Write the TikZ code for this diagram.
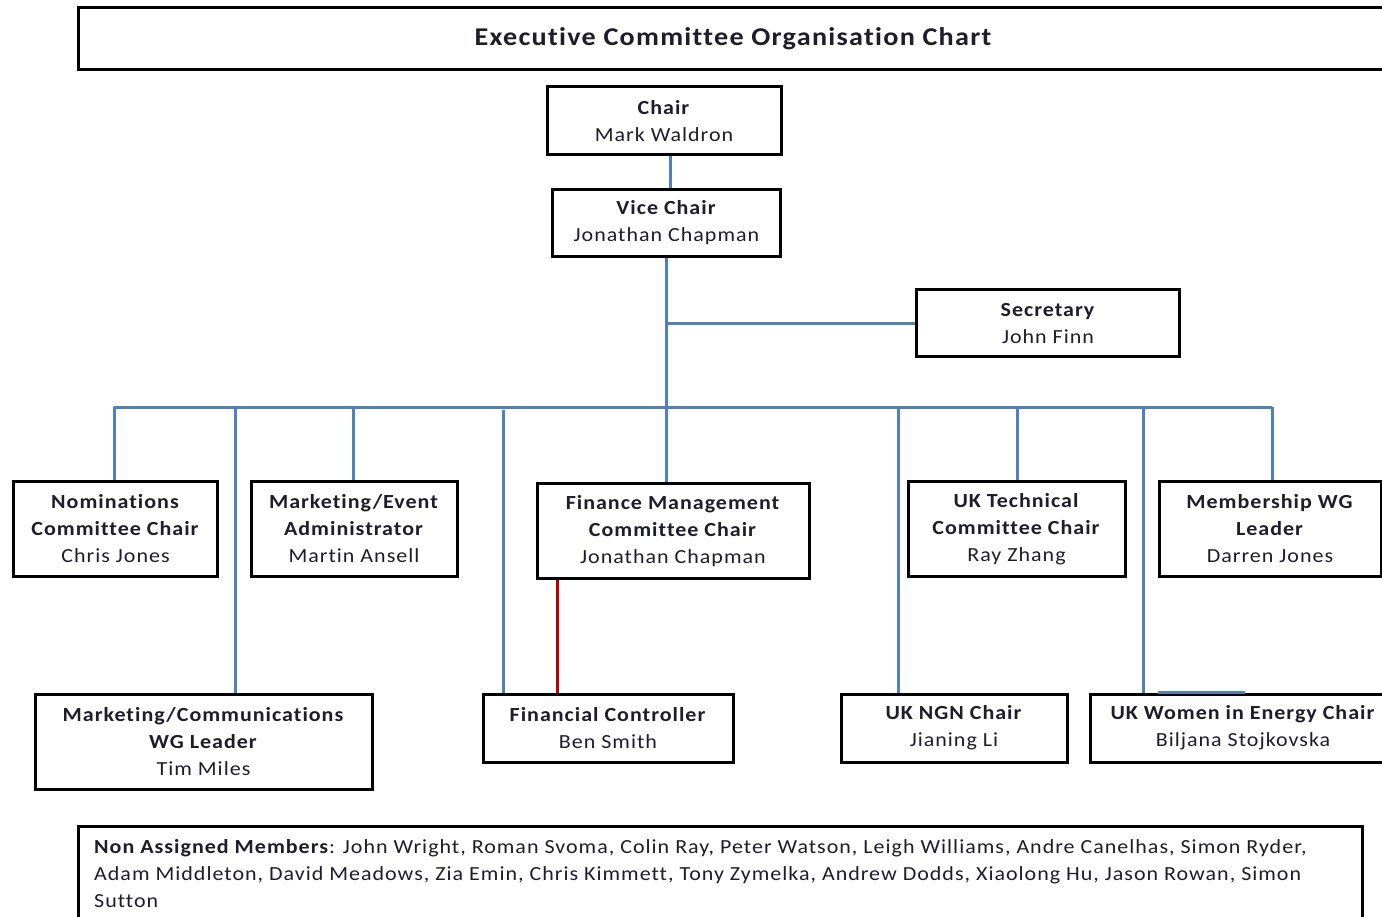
\documentclass[tikz,border=0pt]{standalone}
\usepackage{fontspec}
\setmainfont{Carlito}[FakeStretch=1.1, LetterSpace=5, Ligatures=NoCommon]
\definecolor{linkblue}{HTML}{4F81BD}
\definecolor{linkred}{HTML}{C00000}
\definecolor{txt}{HTML}{1E1E28}
\begin{document}
\begin{tikzpicture}[x=1pt,y=-1pt,
  orgbox/.style={draw=black, line width=3pt, fill=white, align=center, inner sep=0pt,
     text=txt, font=\fontsize{20}{27}\selectfont},
  conn/.style={draw=linkblue, line width=3pt},
  redconn/.style={draw=linkred, line width=3pt}]
\clip (0,0) rectangle (1382,917);
\fill[white] (0,0) rectangle (1382,917);

% title
\node[orgbox, minimum width=1310, minimum height=62, font=\fontsize{25.6}{30}\bfseries] (title) at (733,39) {Executive Committee Organisation Chart};

% upper boxes
\node[orgbox, minimum width=234, minimum height=68] (chair) at (664,121) {\textbf{Chair}\\Mark Waldron};
\node[orgbox, minimum width=228, minimum height=67] (vice) at (666.5,223) {\textbf{Vice Chair}\\Jonathan Chapman};
\node[orgbox, minimum width=263, minimum height=67] (sec) at (1048,323.5) {\textbf{Secretary}\\John Finn};

% middle row
\node[orgbox, minimum width=204, minimum height=95] (nom) at (115.5,529) {\textbf{Nominations}\\\textbf{Committee Chair}\\Chris Jones};
\node[orgbox, minimum width=206, minimum height=95] (mev) at (354,529) {\textbf{Marketing/Event}\\\textbf{Administrator}\\Martin Ansell};
\node[orgbox, minimum width=272, minimum height=95] (fin) at (673,531) {\textbf{Finance Management}\\\textbf{Committee Chair}\\Jonathan Chapman};
\node[orgbox, minimum width=217, minimum height=95] (ukt) at (1016.5,529) {\textbf{UK Technical}\\\textbf{Committee Chair}\\Ray Zhang};
\node[orgbox, minimum width=222, minimum height=95] (mem) at (1270,529) {\textbf{Membership WG}\\\textbf{Leader}\\Darren Jones};

% lower row
\node[orgbox, minimum width=337, minimum height=95] (mc) at (203.5,741.5) {\textbf{Marketing/Communications}\\\textbf{WG Leader}\\Tim Miles};
\node[orgbox, minimum width=250, minimum height=68] (fc) at (608,728) {\textbf{Financial Controller}\\Ben Smith};
\node[orgbox, minimum width=226, minimum height=68] (ngn) at (954,728) {\textbf{UK NGN Chair}\\Jianing Li};
\node[orgbox, minimum width=306, minimum height=68] (wie) at (1243,728) {\textbf{UK Women in Energy Chair}\\Biljana Stojkovska};

% bottom box
\node[draw=black, line width=3pt, fill=white, minimum width=1284, minimum height=120, inner sep=0pt] (na) at (720,886) {};
\node[anchor=north west, align=left, inner sep=0pt, text=txt, font=\fontsize{20}{27}\selectfont] (natext) at (94,839)
  {\textbf{Non Assigned Members}: John Wright, Roman Svoma, Colin Ray, Peter Watson, Leigh Williams, Andre Canelhas, Simon Ryder,\\
   Adam Middleton, David Meadows, Zia Emin, Chris Kimmett, Tony Zymelka, Andrew Dodds, Xiaolong Hu, Jason Rowan, Simon\\
   Sutton};

% connectors
\coordinate (cx) at (670.5,0);
\draw[conn] (cx |- chair.south) -- (cx |- vice.north);
\draw[conn] (vice.south) -- (vice.south |- fin.north);
\draw[conn] (vice.south |- sec.west) -- (sec.west);

\coordinate (busL) at (114,407);
\coordinate (busR) at (1272,407);
\coordinate (b2) at (235,407);
\coordinate (b3) at (353,407);
\coordinate (b4) at (503,410);
\coordinate (b6) at (898,407);
\coordinate (b7) at (1017,407);
\coordinate (b8) at (1143,407);
\draw[conn] (busL) -- (busR);
\draw[conn] (busL) -- (busL |- nom.north);
\draw[conn] (b2) -- (b2 |- mc.north);
\draw[conn] (b3) -- (b3 |- mev.north);
\draw[conn] (b4) -- (b4 |- fc.north);
\draw[conn] (b6) -- (b6 |- ngn.north);
\draw[conn] (b7) -- (b7 |- ukt.north);
\draw[conn] (b8) -- (b8 |- wie.north);
\draw[conn] (busR) -- (busR |- mem.north);

\coordinate (wl) at (1158,0);
\coordinate (wr) at (1245,0);
\draw[conn] (wl |- wie.north) -- (wr |- wie.north);

\coordinate (rx) at (557,0);
\draw[redconn] (rx |- fin.south) -- (rx |- fc.north);
\end{tikzpicture}
\end{document}
